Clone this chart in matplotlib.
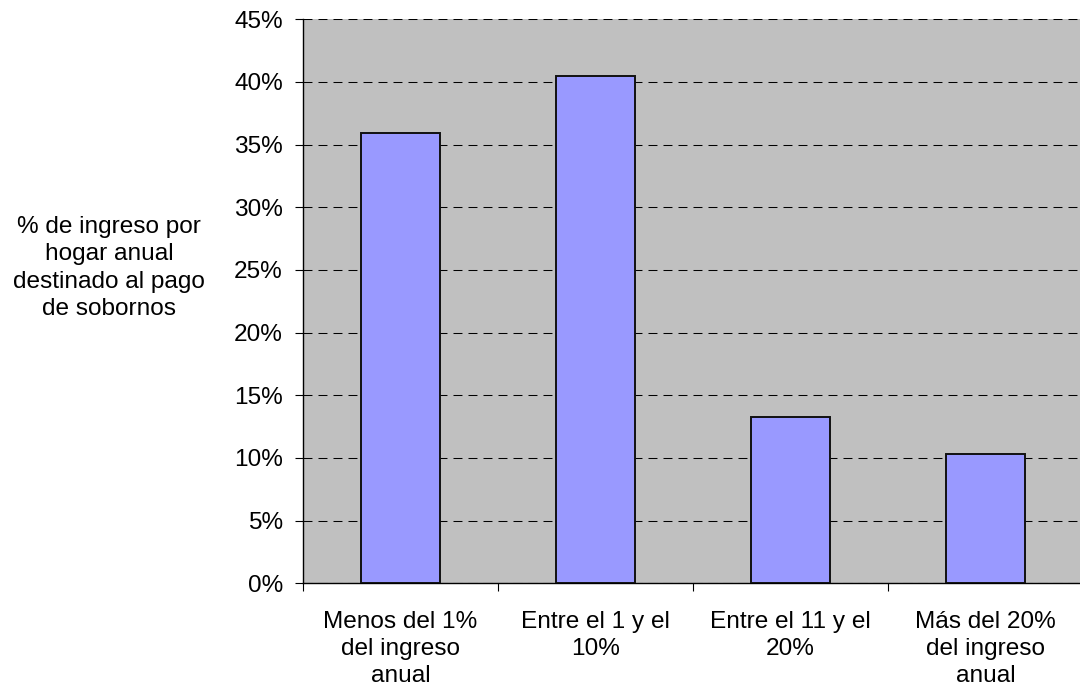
import matplotlib
matplotlib.use("Agg")
import matplotlib.pyplot as plt
from matplotlib.ticker import FixedLocator, PercentFormatter

plt.rcParams["font.family"] = ["Liberation Sans", "DejaVu Sans"]

# data
categories = [
    "Menos del 1%\ndel ingreso\nanual",
    "Entre el 1 y el\n10%",
    "Entre el 11 y el\n20%",
    "Más del 20%\ndel ingreso\nanual",
]
shares = [35.9, 40.45, 13.3, 10.3]
y_ticks = [0, 5, 10, 15, 20, 25, 30, 35, 40, 45]
y_label = "% de ingreso por\nhogar anual\ndestinado al pago\nde sobornos"

FS = 17.6

fig = plt.figure(figsize=(10.8, 6.95), dpi=100)
ax = fig.add_axes([303 / 1080, 1 - 583.4 / 695, 780 / 1080, (583.4 - 19.1) / 695])
ax.set_facecolor("#c0c0c0")

xs = range(len(categories))
ax.bar(xs, shares, width=0.405, color="#9999ff", edgecolor="#111111",
       linewidth=1.4, zorder=3)

ax.set_xlim(-0.5, len(categories) - 0.5)
ax.set_ylim(0, 45)
ax.set_yticks(y_ticks)
ax.yaxis.set_major_formatter(PercentFormatter(decimals=0))
ax.yaxis.grid(True, color="black", linewidth=0.75,
              linestyle=(0, (8.6, 5.8)), zorder=1)
ax.set_axisbelow(True)

ax.set_xticks(list(xs))
ax.set_xticklabels(categories, fontsize=FS, linespacing=1.3)
ax.xaxis.set_minor_locator(FixedLocator([i - 0.5 for i in range(len(categories) + 1)]))
ax.tick_params(axis="x", which="major", length=0, pad=20)
ax.tick_params(axis="x", which="minor", length=6, width=0.8, direction="out")
ax.tick_params(axis="y", length=5.5, width=0.8, direction="out", pad=9,
               labelsize=FS)

for side in ("top", "right"):
    ax.spines[side].set_visible(False)
for side in ("left", "bottom"):
    ax.spines[side].set_linewidth(1.0)
    ax.spines[side].set_color("black")

fig.text(109 / 1080, 1 - 268 / 695, y_label, ha="center", va="center",
         multialignment="center", fontsize=FS, linespacing=1.32)

fig.savefig("out.png", dpi=100)
